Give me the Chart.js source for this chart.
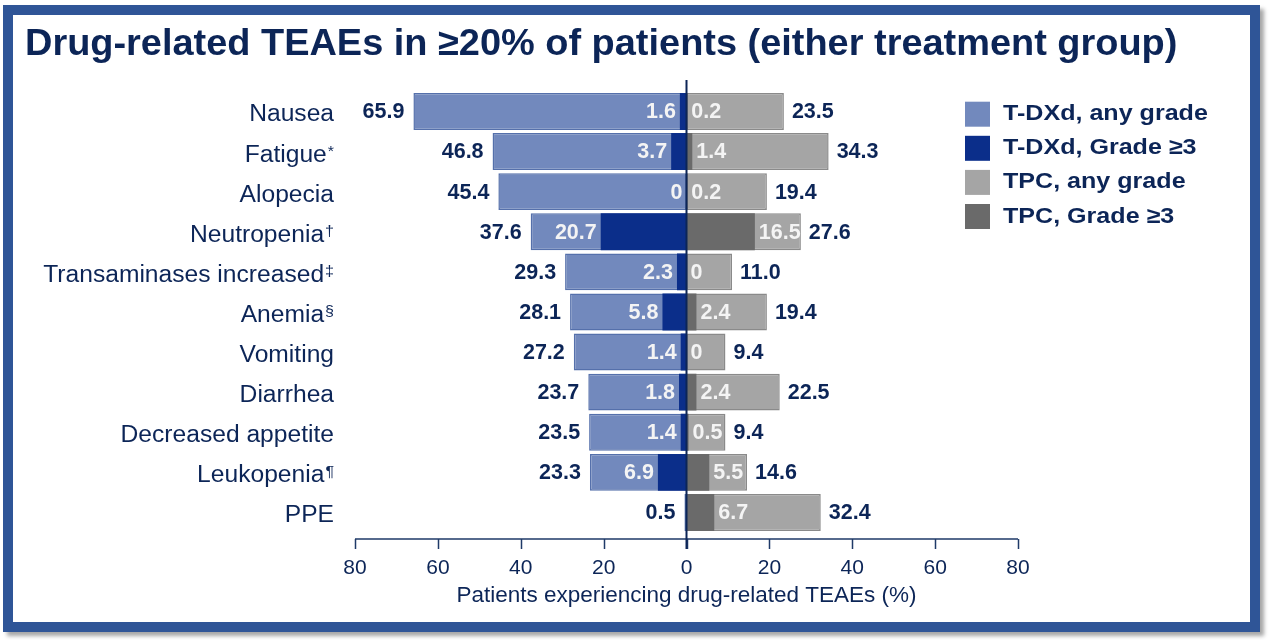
<!DOCTYPE html>
<html>
<head>
<meta charset="utf-8">
<script src="https://cdn.jsdelivr.net/npm/chart.js@4.4.1/dist/chart.umd.min.js"></script>
<style>
  body { margin: 0; background: #ffffff; }
  #frame {
    position: absolute; left: 3px; top: 5px; width: 1237px; height: 607px;
    border: 10px solid #2f5597; background: #ffffff;
    box-shadow: 4px 4px 4px rgba(0, 0, 0, 0.35);
  }
  #chart { position: absolute; left: 0; top: 0; }
</style>
</head>
<body>
<div id="frame"></div>
<canvas id="chart" width="1269" height="640"></canvas>
<script>
// categories, footnote marks, values (%)
const categories = ['Nausea', 'Fatigue', 'Alopecia', 'Neutropenia', 'Transaminases increased',
  'Anemia', 'Vomiting', 'Diarrhea', 'Decreased appetite', 'Leukopenia', 'PPE'];
const footnotes = ['', '*', '', '†', '‡', '§', '', '', '', '¶', ''];
const tdxdAny = [65.9, 46.8, 45.4, 37.6, 29.3, 28.1, 27.2, 23.7, 23.5, 23.3, 0.5];
const tdxdGrade3 = [1.6, 3.7, 0, 20.7, 2.3, 5.8, 1.4, 1.8, 1.4, 6.9, null];
const tpcAny = [23.5, 34.3, 19.4, 27.6, 11.0, 19.4, 9.4, 22.5, 9.4, 14.6, 32.4];
const tpcGrade3 = [0.2, 1.4, 0.2, 16.5, 0, 2.4, 0, 2.4, 0.5, 5.5, 6.7];
const legendLabels = ['T-DXd, any grade', 'T-DXd, Grade ≥3', 'TPC, any grade', 'TPC, Grade ≥3'];
const tickValues = [-80, -60, -40, -20, 0, 20, 40, 60, 80];
const titleText = 'Drug-related TEAEs in ≥20% of patients (either treatment group)';

const NAVY = '#0c2557';
const FONT = '"Liberation Sans", Arial, sans-serif';

const fmt = v => (v === 0 ? '0' : v.toFixed(1));
const neg = arr => arr.map(v => (v === null ? null : -v));

// text drawn a little wider, like the slide
function wideText(ctx, text, x, y, align, sx) {
  ctx.save();
  ctx.translate(x, y);
  ctx.scale(sx, 1);
  ctx.textAlign = align;
  ctx.fillText(text, 0, 0);
  ctx.restore();
}

const overlayPlugin = {
  id: 'overlay',
  afterDatasetsDraw(chart) {
    const ctx = chart.ctx;
    const x = chart.scales.x;
    const y = chart.scales.y;
    const area = chart.chartArea;
    const axisY = area.bottom + 6.5;
    ctx.save();
    ctx.textBaseline = 'alphabetic';

    // title
    ctx.fillStyle = NAVY;
    ctx.font = 'bold 37px ' + FONT;
    wideText(ctx, titleText, 25, 55, 'left', 1.025);

    // category labels with superscript marks
    const sx = 1.07;
    categories.forEach((name, i) => {
      const base = y.getPixelForValue(i) + 10;
      const right = 334;
      ctx.font = '15px ' + FONT;
      const supW = footnotes[i] ? ctx.measureText(footnotes[i]).width * sx + 1 : 0;
      ctx.fillStyle = NAVY;
      if (footnotes[i]) wideText(ctx, footnotes[i], right - supW + 1, base - 6, 'left', sx);
      ctx.font = '23px ' + FONT;
      wideText(ctx, name, right - supW, base, 'right', sx);
    });

    // value labels
    ctx.font = 'bold 21.5px ' + FONT;
    ctx.textBaseline = 'middle';
    categories.forEach((name, i) => {
      const cy = y.getPixelForValue(i) + 1;
      ctx.textAlign = 'right';
      ctx.fillStyle = NAVY;
      ctx.fillText(fmt(tdxdAny[i]), x.getPixelForValue(-tdxdAny[i]) - 9, cy);
      if (tdxdGrade3[i] !== null) {
        ctx.fillStyle = '#f4f4f4';
        ctx.fillText(fmt(tdxdGrade3[i]), x.getPixelForValue(-tdxdGrade3[i]) - 4, cy);
      }
      ctx.textAlign = 'left';
      ctx.fillStyle = '#f4f4f4';
      ctx.fillText(fmt(tpcGrade3[i]), x.getPixelForValue(tpcGrade3[i]) + 4, cy);
      ctx.fillStyle = NAVY;
      ctx.fillText(fmt(tpcAny[i]), x.getPixelForValue(tpcAny[i]) + 8, cy);
    });

    // x axis line and ticks
    ctx.strokeStyle = '#1f3a68';
    ctx.lineWidth = 1.5;
    ctx.beginPath();
    ctx.moveTo(x.getPixelForValue(-80), axisY);
    ctx.lineTo(x.getPixelForValue(80), axisY);
    tickValues.forEach(t => {
      const tx = Math.round(x.getPixelForValue(t)) + 0.5;
      ctx.moveTo(tx, axisY);
      ctx.lineTo(tx, axisY + 10);
    });
    ctx.stroke();

    // zero line
    const x0 = x.getPixelForValue(0);
    ctx.strokeStyle = NAVY;
    ctx.lineWidth = 2;
    ctx.beginPath();
    ctx.moveTo(x0, 80);
    ctx.lineTo(x0, axisY + 10);
    ctx.stroke();

    // legend
    ctx.textBaseline = 'alphabetic';
    chart.data.datasets.slice().sort((a, b) => a.legendIndex - b.legendIndex).forEach((ds, i) => {
      const top = 101.7 + i * 34.1;
      ctx.fillStyle = ds.backgroundColor;
      ctx.fillRect(965, top, 25, 25);
      ctx.fillStyle = NAVY;
      ctx.font = 'bold 22px ' + FONT;
      wideText(ctx, ds.label, 1003, top + 18.5, 'left', 1.14);
    });
    ctx.restore();
  }
};

new Chart(document.getElementById('chart').getContext('2d'), {
  type: 'bar',
  data: {
    labels: categories,
    datasets: [
      { label: legendLabels[1], legendIndex: 1, data: neg(tdxdGrade3), backgroundColor: '#0b2e8a', borderWidth: 0 },
      { label: legendLabels[0], legendIndex: 0, data: neg(tdxdAny), backgroundColor: '#7289bd', borderColor: '#5570ab', borderWidth: 1.5, borderSkipped: false },
      { label: legendLabels[3], legendIndex: 3, data: tpcGrade3, backgroundColor: '#6a6a6a', borderWidth: 0 },
      { label: legendLabels[2], legendIndex: 2, data: tpcAny, backgroundColor: '#a5a5a5', borderColor: '#8a8a8a', borderWidth: 1.5, borderSkipped: false }
    ]
  },
  options: {
    indexAxis: 'y',
    responsive: false,
    animation: false,
    datasets: { bar: { grouped: false, barPercentage: 0.92, categoryPercentage: 1 } },
    layout: { padding: { left: 25, right: 251, top: 91.4, bottom: 0 } },
    plugins: {
      legend: { display: false },
      tooltip: { enabled: false },
      title: { display: false }
    },
    scales: {
      y: {
        type: 'category',
        grid: { display: false },
        border: { display: false },
        ticks: { display: false },
        afterFit: s => { s.width = 330; }
      },
      x: {
        min: -80,
        max: 80,
        afterBuildTicks: s => { s.ticks = tickValues.map(v => ({ value: v })); },
        ticks: {
          color: NAVY,
          font: { family: FONT, size: 21 },
          padding: 15,
          callback: v => Math.abs(v)
        },
        grid: { display: false, tickLength: 8 },
        border: { display: false },
        title: {
          display: true,
          text: 'Patients experiencing drug-related TEAEs (%)',
          color: NAVY,
          font: { family: FONT, size: 22.5 },
          padding: { top: 0, bottom: 30.5 }
        },
        afterFit: s => { s.height = 107.5; }
      }
    }
  },
  plugins: [overlayPlugin]
});
</script>
</body>
</html>
